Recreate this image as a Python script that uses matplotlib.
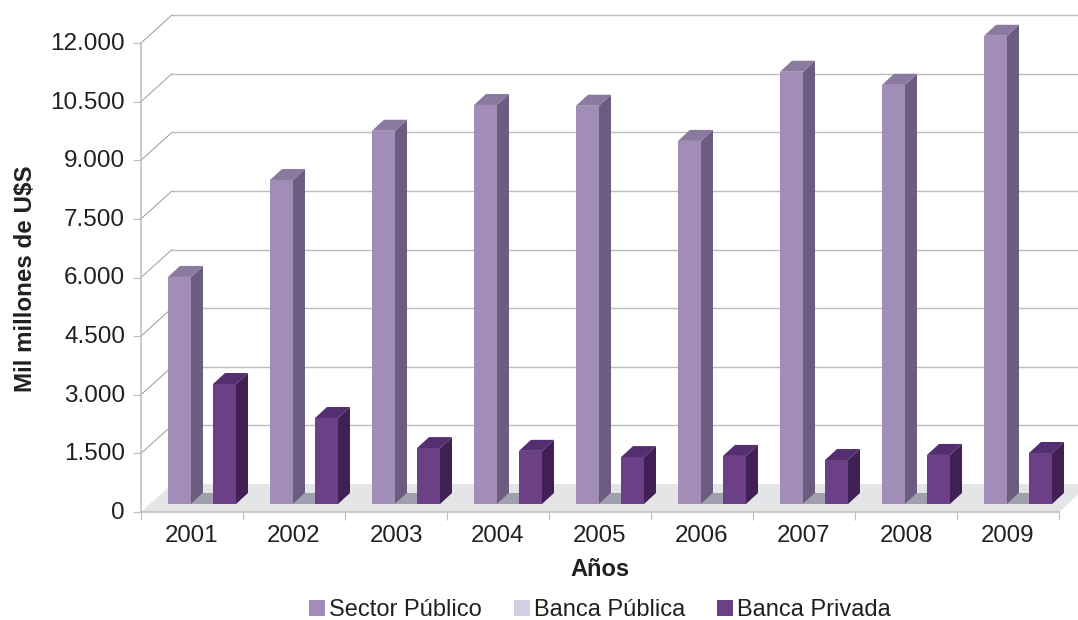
import matplotlib
matplotlib.use("Agg")
import matplotlib.pyplot as plt
from matplotlib.patches import Polygon, Patch
from matplotlib.transforms import Affine2D
import numpy as np

plt.rcParams['font.family'] = ['Liberation Sans', 'DejaVu Sans']

years = ['2001', '2002', '2003', '2004', '2005', '2006', '2007', '2008', '2009']
sector_publico = [5810, 8290, 9550, 10210, 10190, 9290, 11060, 10725, 11980]
banca_publica = [0, 0, 0, 0, 0, 0, 0, 0, 0]
banca_privada = [3070, 2200, 1430, 1360, 1200, 1230, 1125, 1255, 1305]
yticks = [0, 1500, 3000, 4500, 6000, 7500, 9000, 10500, 12000]
ylabels = ['0', '1.500', '3.000', '4.500', '6.000', '7.500', '9.000', '10.500', '12.000']

W, H = 1078, 620
fig = plt.figure(figsize=(W / 100, H / 100), dpi=100)
L, R, B, T = 141, 1059, 512, 43
ax = fig.add_axes([L / W, 1 - B / H, (R - L) / W, (B - T) / H])
ax.set_xlim(0, 9)
ax.set_ylim(0, 12000)
ax.patch.set_visible(False)

GRID = '#bcbcbc'
# pixel -> data unit conversions
ux = 9 / (R - L)
uy = 12000 / (B - T)

# floor and walls (31 px back, 28 px up)
DX, DY = 31 * ux, 28 * uy
ax.add_patch(Polygon([(0, 0), (9, 0), (9 + DX, DY), (DX, DY)], closed=True,
                     fc='#e4e5e7', ec='none', clip_on=False, zorder=1))
for v in yticks[1:]:
    ax.plot([0, DX], [v, v + DY], color='#9a9a9a', lw=0.7, clip_on=False, zorder=1.5)
    ax.plot([DX, 9 + DX + 1], [v + DY, v + DY], color=GRID, lw=1.0, clip_on=False, zorder=1.5)


def bar3d(x0, value, front, side, top):
    """Front face via ax.bar; side and top faces as depth offsets."""
    wid = 23 * ux
    dx, dy = 12 * ux, 11 * uy
    base = 8 * uy
    y1 = base + value
    if value > 0:
        ax.bar(x0, value, width=wid, bottom=base, align='edge', color=front, zorder=3, clip_on=False)
        ax.add_patch(Polygon([(x0 + wid, base), (x0 + wid + dx, base + dy),
                              (x0 + wid + dx, y1 + dy), (x0 + wid, y1)],
                             closed=True, fc=side, ec='none', zorder=3, clip_on=False))
    ax.add_patch(Polygon([(x0, y1), (x0 + wid, y1), (x0 + wid + dx, y1 + dy), (x0 + dx, y1 + dy)],
                         closed=True, fc=top, ec='none', zorder=2.5 if value == 0 else 3, clip_on=False))


for i in range(len(years)):
    s = i + 27 * ux
    bar3d(s + 23 * ux, banca_publica[i], '#d3cfe3', '#a09fae', '#a09fae')
    bar3d(s, sector_publico[i], '#a28db8', '#6c5c80', '#8a7a9f')
    bar3d(s + 45 * ux, banca_privada[i], '#6b4086', '#412055', '#532e70')

# axes styling
for sp in ('top', 'right'):
    ax.spines[sp].set_visible(False)
for sp in ('left', 'bottom'):
    ax.spines[sp].set_color(GRID)
    ax.spines[sp].set_linewidth(1.1)
ax.set_yticks(yticks)
ax.set_yticklabels(ylabels, fontsize=17.5, color='#231f20')
ax.set_xticks(np.arange(0, 10))
ax.set_xticklabels([])
ax.set_xticks(np.arange(9) + 0.5, minor=True)
ax.set_xticklabels(years, minor=True, fontsize=17.3, color='#231f20')
ax.tick_params(axis='x', which='major', length=6, color=GRID, width=0.8)
ax.tick_params(axis='x', which='minor', length=0, pad=9)
ax.tick_params(axis='y', length=6, color=GRID, width=0.8, pad=5.5)
shift = Affine2D().translate(0, 1.5)
for lab in ax.get_yticklabels():
    lab.set_transform(lab.get_transform() + shift)

fig.text(26 / W, 1 - 279 / H, 'Mil millones de U$S', rotation=90, ha='center', va='center',
         fontsize=17.4, fontweight='bold', color='#231f20')
fig.text(600 / W, 1 - 569 / H, 'Años', ha='center', va='center',
         fontsize=17, fontweight='bold', color='#231f20')

handles = [Patch(fc='#a28db8', label='Sector Público'),
           Patch(fc='#d3cfe3', label='Banca Pública'),
           Patch(fc='#6b4086', label='Banca Privada')]
fig.legend(handles=handles, ncol=3, loc='center', bbox_to_anchor=(600 / W, 1 - 610 / H),
           fontsize=17, frameon=False, handlelength=0.68, handleheight=0.68,
           handletextpad=0.17, columnspacing=1.35, borderpad=0, borderaxespad=0,
           labelcolor='#231f20')

fig.savefig('out.png', dpi=100)
